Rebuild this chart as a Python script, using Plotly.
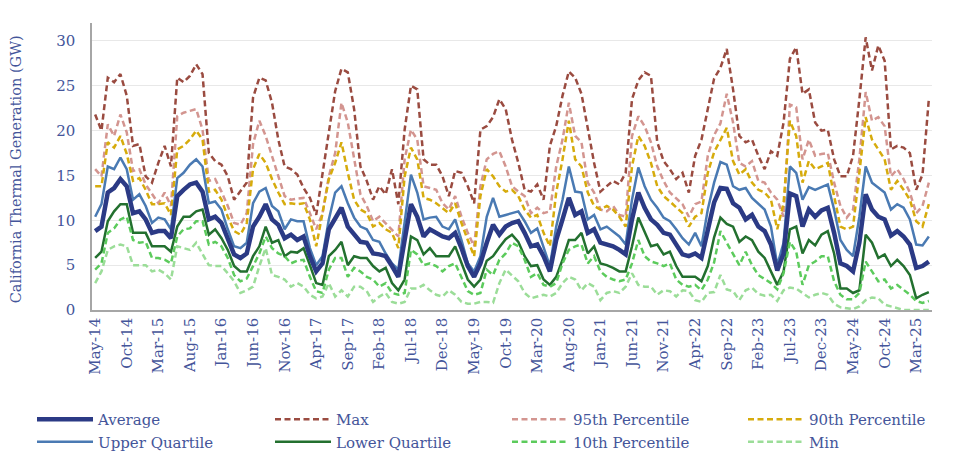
import plotly.graph_objects as go

months = ["Jan", "Feb", "Mar", "Apr", "May", "Jun", "Jul", "Aug", "Sep", "Oct", "Nov", "Dec"]
categories = []
m, y = 4, 14
for _ in range(133):
    categories.append(f"{months[m]}-{y:02d}")
    m += 1
    if m == 12:
        m, y = 0, y + 1
tick_labels = categories[::5]

average = [8.8, 9.3, 13.1, 13.6, 14.6, 13.8, 10.8, 11.0, 10.1, 8.6, 8.8, 8.8, 8.0, 12.7, 13.4, 14.0, 14.2, 13.2, 10.1, 10.4,
           9.7, 7.8, 6.2, 5.8, 6.3, 9.3, 10.4, 11.8, 10.1, 9.5, 8.0, 8.4, 7.8, 8.2, 6.0, 4.3, 5.2, 9.0, 10.3, 11.4,
           9.3, 8.4, 7.6, 7.5, 6.3, 6.2, 6.0, 4.9, 3.7, 7.8, 11.8, 10.4, 8.2, 9.0, 8.6, 8.2, 8.0, 8.6, 6.9, 4.9,
           3.7, 5.2, 7.5, 9.5, 8.4, 9.3, 9.7, 9.9, 8.6, 7.1, 7.3, 6.0, 4.3, 7.8, 10.1, 12.5, 10.6, 11.0, 8.6, 9.0,
           7.5, 7.3, 7.1, 6.7, 6.2, 10.1, 13.1, 11.4, 10.1, 9.5, 8.6, 8.4, 7.3, 6.2, 6.0, 6.3, 5.8, 9.0, 12.0, 13.6,
           13.5, 11.9, 11.4, 10.1, 10.6, 9.3, 8.8, 7.3, 4.4, 6.3, 13.0, 12.7, 9.3, 11.2, 10.4, 11.1, 11.4, 8.6, 5.2, 4.9,
           4.3, 7.5, 12.9, 11.2, 10.4, 10.1, 8.3, 8.8, 8.2, 7.3, 4.7, 4.9, 5.4]
maximum = [21.8, 20.0, 25.9, 25.4, 26.3, 23.9, 18.3, 18.5, 14.9, 14.2, 16.4, 18.3, 16.0, 25.9, 25.4, 26.1, 27.4, 26.3, 17.5, 16.6,
           16.2, 14.9, 12.3, 13.2, 14.2, 23.7, 25.9, 25.6, 23.1, 19.0, 16.0, 15.7, 15.1, 13.6, 12.5, 10.6, 15.3, 19.8, 24.4, 26.9,
           26.5, 22.4, 16.0, 14.4, 12.3, 13.8, 12.9, 15.7, 11.8, 20.1, 25.0, 24.6, 16.8, 16.2, 16.2, 14.9, 12.7, 15.5, 15.3, 13.8,
           11.9, 20.1, 20.5, 21.5, 23.5, 22.4, 19.0, 16.4, 13.4, 13.2, 14.0, 12.3, 18.3, 20.5, 23.9, 26.6, 25.9, 24.1, 20.1, 16.4,
           13.2, 13.8, 14.4, 14.0, 15.3, 23.5, 25.6, 26.5, 26.1, 18.7, 16.6, 15.7, 14.6, 15.3, 13.1, 17.2, 19.0, 22.4, 25.8, 27.0,
           29.1, 24.6, 19.4, 18.7, 19.0, 17.2, 15.7, 17.7, 17.2, 20.9, 28.0, 29.3, 24.1, 24.6, 20.9, 20.0, 20.1, 16.8, 14.9, 14.9,
           17.2, 23.5, 30.4, 26.7, 29.5, 27.8, 17.9, 18.3, 18.1, 17.5, 13.4, 15.1, 23.5]
p95 = [15.7, 14.9, 20.7, 19.4, 21.8, 19.8, 15.5, 15.7, 14.0, 12.9, 11.9, 13.1, 11.6, 21.6, 22.0, 22.2, 22.4, 20.1, 14.4, 14.6,
       13.2, 11.6, 9.7, 9.5, 10.8, 18.5, 21.1, 19.4, 17.2, 15.1, 12.7, 12.3, 12.4, 12.5, 10.8, 9.0, 10.8, 14.9, 17.5, 23.1,
       20.9, 16.8, 12.9, 11.6, 9.9, 10.4, 9.7, 9.0, 8.2, 16.8, 20.1, 19.0, 13.8, 13.6, 13.4, 11.9, 11.2, 12.7, 10.4, 8.6,
       7.1, 13.8, 16.8, 17.4, 17.7, 16.0, 13.8, 13.2, 12.7, 10.8, 11.4, 10.8, 11.0, 16.0, 19.0, 23.1, 19.4, 18.7, 14.2, 13.1,
       11.2, 11.0, 11.6, 10.6, 10.4, 19.4, 21.6, 20.5, 18.7, 16.0, 14.4, 13.1, 12.5, 11.8, 10.4, 11.8, 12.1, 17.2, 19.5, 20.8,
       24.1, 20.9, 16.4, 16.0, 16.6, 14.4, 14.2, 13.1, 12.3, 10.4, 22.9, 22.6, 16.8, 19.0, 17.2, 17.4, 17.5, 14.2, 11.6, 10.3,
       11.2, 16.8, 24.3, 21.1, 21.5, 20.5, 14.9, 15.7, 14.6, 13.1, 10.8, 11.6, 14.2]
p90 = [13.8, 13.8, 18.7, 18.1, 19.4, 17.4, 14.4, 14.7, 13.4, 11.8, 11.8, 11.9, 10.6, 17.9, 18.3, 19.0, 20.0, 19.0, 13.2, 13.4,
       12.3, 10.4, 8.8, 8.4, 9.7, 15.7, 17.4, 16.4, 14.6, 13.1, 11.8, 11.9, 11.8, 11.9, 10.1, 7.1, 10.8, 14.6, 16.4, 18.7,
       15.3, 12.3, 11.2, 10.8, 9.3, 9.7, 9.0, 8.6, 6.9, 14.9, 18.1, 16.8, 12.5, 12.3, 11.9, 11.4, 10.8, 11.9, 9.7, 7.8,
       6.0, 12.7, 15.7, 14.9, 13.8, 13.2, 13.4, 12.7, 11.2, 10.3, 10.6, 8.6, 7.1, 13.1, 16.8, 21.1, 16.8, 16.0, 13.1, 11.6,
       11.2, 11.6, 11.2, 10.4, 9.3, 16.0, 19.4, 18.3, 16.4, 13.8, 12.7, 12.1, 11.4, 10.8, 9.3, 10.4, 10.8, 15.3, 17.6, 19.0,
       20.3, 16.6, 15.1, 15.7, 14.2, 13.4, 13.1, 12.3, 9.0, 11.9, 21.1, 19.4, 14.2, 16.6, 15.7, 16.0, 16.4, 12.7, 9.3, 9.0,
       9.3, 15.3, 21.5, 19.0, 17.9, 16.8, 13.4, 14.4, 13.4, 12.3, 9.9, 9.3, 11.8]
upper_q = [10.4, 11.8, 16.0, 15.7, 17.0, 15.7, 12.3, 12.9, 11.6, 9.7, 10.3, 10.1, 9.0, 14.7, 15.3, 16.2, 16.8, 16.0, 11.9, 12.1,
           11.2, 9.0, 7.1, 6.9, 7.5, 11.9, 13.2, 13.6, 11.6, 11.0, 9.0, 10.1, 9.9, 9.9, 6.9, 5.0, 6.0, 10.1, 13.1, 13.8,
           11.9, 10.3, 9.3, 9.0, 7.8, 7.6, 6.3, 5.2, 4.5, 10.1, 15.1, 13.1, 10.1, 10.3, 10.4, 9.3, 9.0, 10.1, 7.8, 5.2,
           4.3, 6.0, 10.4, 12.5, 10.4, 10.6, 10.8, 11.0, 9.9, 8.6, 9.1, 6.9, 4.9, 9.3, 12.3, 16.0, 13.2, 13.1, 10.1, 10.6,
           9.0, 9.3, 8.8, 8.2, 7.3, 12.3, 15.9, 13.8, 12.3, 11.4, 10.3, 9.9, 9.0, 8.0, 7.3, 8.6, 7.1, 11.2, 14.2, 16.5,
           16.2, 13.8, 13.4, 13.6, 12.5, 11.9, 11.2, 9.3, 5.0, 7.5, 16.0, 15.3, 12.3, 13.7, 13.4, 13.7, 14.0, 11.2, 7.8, 6.7,
           6.0, 10.4, 16.0, 14.2, 13.6, 13.1, 11.2, 11.8, 11.4, 10.1, 7.3, 7.2, 8.2]
lower_q = [5.8, 6.5, 9.9, 11.0, 11.8, 11.8, 8.6, 8.6, 8.6, 7.1, 7.1, 7.1, 6.5, 9.3, 10.4, 10.4, 11.0, 11.2, 8.4, 9.0,
           8.0, 6.7, 4.9, 4.3, 4.3, 6.0, 7.1, 9.3, 7.5, 7.8, 6.0, 6.5, 6.4, 6.9, 5.0, 3.0, 2.8, 6.0, 6.7, 7.6,
           5.0, 6.0, 5.8, 5.8, 4.9, 4.3, 4.7, 3.0, 2.2, 3.4, 8.2, 7.8, 6.2, 6.9, 6.0, 6.0, 6.0, 7.1, 5.2, 3.4,
           2.6, 3.4, 5.5, 6.0, 7.0, 7.9, 8.4, 7.6, 6.0, 4.9, 5.0, 3.4, 2.8, 3.7, 5.6, 7.8, 7.8, 8.6, 6.3, 7.1,
           5.2, 5.0, 4.7, 4.3, 4.3, 7.1, 10.3, 8.6, 7.1, 7.3, 6.2, 6.5, 4.9, 3.7, 3.7, 3.7, 3.2, 4.9, 8.1, 10.3,
           9.6, 9.3, 7.6, 8.2, 7.8, 6.5, 5.8, 4.3, 2.8, 4.3, 9.0, 9.3, 6.3, 7.8, 7.2, 8.4, 8.8, 6.3, 2.4, 2.4,
           1.9, 2.2, 8.4, 7.5, 5.8, 6.2, 4.9, 5.6, 4.9, 3.9, 1.3, 1.7, 2.0]
p10 = [4.5, 5.2, 8.6, 9.1, 10.1, 10.4, 7.8, 7.5, 7.6, 5.8, 5.8, 5.6, 5.2, 8.2, 9.0, 9.1, 9.9, 9.9, 7.3, 7.6,
       7.1, 5.8, 3.9, 3.2, 3.5, 4.9, 6.3, 8.2, 6.9, 6.3, 6.0, 5.2, 5.5, 5.6, 3.7, 2.1, 1.9, 4.5, 5.8, 5.8,
       3.7, 4.7, 4.3, 3.7, 3.4, 2.6, 3.0, 1.9, 1.7, 1.9, 6.7, 6.2, 5.0, 5.2, 4.9, 4.3, 4.9, 5.2, 3.7, 2.1,
       1.7, 1.9, 4.5, 3.9, 5.6, 6.3, 7.5, 7.1, 5.6, 3.7, 4.1, 2.8, 2.6, 3.0, 5.2, 6.7, 7.1, 7.3, 5.2, 6.0,
       4.3, 3.7, 3.4, 3.2, 3.4, 5.2, 7.8, 6.0, 5.4, 5.2, 4.9, 5.2, 3.4, 2.8, 2.6, 2.8, 2.2, 3.4, 5.3, 8.8,
       7.5, 6.2, 5.0, 6.5, 5.0, 3.9, 3.4, 3.0, 2.3, 4.1, 7.6, 6.5, 2.8, 5.0, 5.4, 6.0, 6.0, 3.2, 1.7, 1.2,
       1.2, 1.9, 5.4, 4.3, 3.2, 3.4, 2.4, 2.8, 2.3, 1.7, 1.0, 0.8, 1.0]
minimum = [3.0, 4.3, 6.7, 7.1, 7.3, 7.1, 5.0, 5.0, 5.0, 4.3, 4.5, 4.1, 3.4, 7.1, 6.9, 6.7, 7.5, 6.3, 5.0, 4.9,
           4.9, 4.1, 3.2, 1.9, 2.2, 2.6, 4.9, 6.9, 3.9, 3.7, 3.4, 2.6, 3.0, 2.6, 1.7, 1.3, 1.5, 3.0, 1.5, 2.2,
           1.5, 2.6, 2.6, 2.1, 0.9, 1.5, 1.9, 0.9, 0.7, 0.9, 2.4, 2.4, 2.8, 2.2, 1.7, 1.5, 2.2, 1.7, 0.9, 0.7,
           0.7, 0.9, 0.9, 0.8, 3.0, 4.5, 3.8, 3.2, 1.9, 1.3, 1.5, 1.7, 1.5, 1.9, 3.0, 3.7, 3.4, 2.2, 3.0, 2.6,
           1.1, 1.9, 2.1, 1.9, 2.6, 4.1, 2.8, 2.6, 2.6, 1.7, 2.2, 2.1, 1.5, 2.2, 2.1, 1.1, 0.9, 1.9, 2.0, 3.9,
           2.3, 2.1, 1.1, 2.2, 2.5, 1.8, 1.6, 1.7, 1.0, 2.2, 2.5, 2.4, 1.9, 1.4, 1.7, 1.9, 1.7, 0.7, 0.3, 0.2,
           0.1, 0.4, 1.1, 1.4, 1.3, 0.6, 0.4, 0.2, 0.0, 0.0, 0.0, 0.0, 0.0]

FONT = "DejaVu Serif"
TEXT = "#44559a"
DASH = "6px,3.5px"
Y_TITLE = "California Thermal Generation (GW)"

# name, values, colour, width, dash, legend column, rank within column
series = [
    ("Average", average, "#2b3a85", 4.5, "solid", "legend", 1),
    ("Max", maximum, "#9a4b40", 2.5, DASH, "legend2", 1),
    ("95th Percentile", p95, "#d39590", 2.5, DASH, "legend3", 1),
    ("90th Percentile", p90, "#d6ab0c", 2.5, DASH, "legend4", 1),
    ("Upper Quartile", upper_q, "#4a7ab3", 2.5, "solid", "legend", 2),
    ("Lower Quartile", lower_q, "#23702f", 2.5, "solid", "legend2", 2),
    ("10th Percentile", p10, "#5ccb5c", 2.5, DASH, "legend3", 2),
    ("Min", minimum, "#9bdd98", 2.5, DASH, "legend4", 2),
]

fig = go.Figure()
# draw the average last so it sits on top
for name, vals, color, width, dash, leg, rank in series[1:] + series[:1]:
    fig.add_trace(go.Scatter(
        x=categories, y=vals, mode="lines", name=name, legend=leg, legendrank=rank,
        line=dict(color=color, width=width, dash=dash),
    ))

col_x = [32, 270, 507, 743]
legend_common = dict(
    orientation="v", xref="container", yref="container", xanchor="left",
    y=1 - 403 / 452, yanchor="top", itemwidth=56, tracegroupgap=0,
    traceorder="normal", bgcolor="rgba(0,0,0,0)",
    font=dict(family=FONT, size=15, color=TEXT),
)

fig.update_layout(
    width=956, height=452,
    margin=dict(l=92, r=24, t=23, b=142, autoexpand=False),
    paper_bgcolor="white", plot_bgcolor="white",
    font=dict(family=FONT, size=15, color=TEXT),
    showlegend=True,
    legend=dict(x=col_x[0] / 956, **legend_common),
    legend2=dict(x=col_x[1] / 956, **legend_common),
    legend3=dict(x=col_x[2] / 956, **legend_common),
    legend4=dict(x=col_x[3] / 956, **legend_common),
    annotations=[dict(
        text=Y_TITLE, xref="paper", yref="paper", x=-0.0905, y=0.49,
        xanchor="center", yanchor="middle", textangle=-90, showarrow=False,
        font=dict(family=FONT, size=14.5, color=TEXT),
    )],
)
fig.update_xaxes(
    type="category", range=[-0.5, 132.5],
    tickmode="array", tickvals=tick_labels, ticktext=tick_labels,
    tickangle=-90, ticks="", showgrid=False,
    showline=True, linecolor="#a6a6a6", linewidth=1.5,
    tickfont=dict(family=FONT, size=15, color=TEXT),
)
fig.update_yaxes(
    range=[0, 32], tickvals=[0, 5, 10, 15, 20, 25, 30],
    showgrid=True, gridcolor="#e8e8e8", gridwidth=1, zeroline=False,
    showline=True, linecolor="#a6a6a6", linewidth=1.5, ticks="",
    ticklabelstandoff=12,
    tickfont=dict(family=FONT, size=15, color=TEXT),
)

fig.write_html("out.html")
